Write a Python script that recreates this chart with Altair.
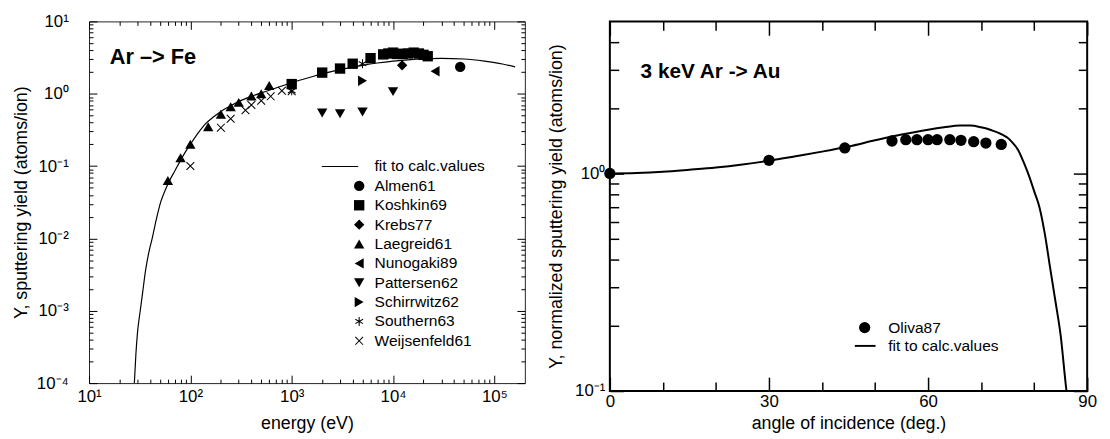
import math
import altair as alt
import pandas as pd

FONT = "Liberation Sans"

# ---------------- left panel: Ar -> Fe ----------------
almen_E = [46000]
almen_Y = [2.35]
koshkin_E = [1000, 2000, 3000, 4000, 6000, 8000, 9000, 10000, 11000, 12500, 14000, 16000, 18000, 20000, 22000]
koshkin_Y = [1.36, 1.96, 2.23, 2.6, 3.1, 3.5, 3.6, 3.7, 3.55, 3.55, 3.6, 3.7, 3.6, 3.45, 3.3]
krebs_E = [12300]
krebs_Y = [2.47]
laegreid_E = [60, 80, 100, 150, 200, 250, 300, 400, 500, 600]
laegreid_Y = [0.063, 0.13, 0.2, 0.35, 0.52, 0.66, 0.76, 0.93, 1.0, 1.3]
nunogaki_E = [26000]
nunogaki_Y = [2.05]
pattersen_E = [2000, 3000, 5000, 10000]
pattersen_Y = [0.54, 0.53, 0.56, 1.07]
schirrwitz_E = [5000]
schirrwitz_Y = [1.51]
southern_E = [1000, 2000, 5000]
southern_Y = [1.1, 1.95, 2.6]
weijsenfeld_E = [100, 200, 250, 350, 400, 500, 620, 800, 1000]
weijsenfeld_Y = [0.1, 0.34, 0.45, 0.59, 0.7, 0.8, 0.92, 1.1, 1.08]

fitL_E = [28, 29, 30, 32, 34, 36, 39, 42, 46, 51, 57, 63, 70, 80, 90, 100, 120, 140, 170, 200,
          250, 300, 400, 500, 700, 1000, 1500, 2000, 3000, 5000, 7000, 10000, 15000, 20000,
          30000, 50000, 80000, 120000, 160000]
fitL_Y = [1e-4, 2.5e-4, 4.8e-4, 1e-3, 1.9e-3, 3.5e-3, 6.5e-3, 1e-2, 1.8e-2, 3.2e-2, 4.8e-2, 6.5e-2,
          8.5e-2, 0.12, 0.16, 0.2, 0.29, 0.38, 0.48, 0.57, 0.68, 0.78, 0.92, 1.03, 1.2, 1.42, 1.68,
          1.88, 2.15, 2.47, 2.66, 2.83, 2.97, 3.03, 3.08, 3.02, 2.82, 2.58, 2.35]

left_series = ["fit to calc.values", "Almen61", "Koshkin69", "Krebs77", "Laegreid61",
               "Nunogaki89", "Pattersen62", "Schirrwitz62", "Southern63", "Weijsenfeld61"]
left_title = "Ar –> Fe"
left_title_E = [16]
left_title_Y = [3.2]

# ---------------- right panel: 3 keV Ar -> Au ----------------
oliva_angle = [0, 30, 44.3, 53.2, 55.8, 57.9, 60.0, 61.7, 64.1, 66.2, 68.6, 70.9, 73.8]
oliva_Y = [1.0, 1.15, 1.31, 1.41, 1.43, 1.43, 1.43, 1.43, 1.43, 1.42, 1.40, 1.38, 1.36]

fitR_angle = [0, 5, 10, 15, 20, 25, 30, 35, 40, 45, 50, 55, 60, 63, 66, 68, 70, 72, 74, 75, 76,
              77, 78, 79, 80, 81, 82, 83, 84, 85, 86, 86.1]
fitR_Y = [1.0, 1.005, 1.018, 1.04, 1.065, 1.10, 1.145, 1.2, 1.26, 1.33, 1.42, 1.51, 1.59, 1.63,
          1.66, 1.66, 1.63, 1.58, 1.51, 1.46, 1.38, 1.28, 1.13, 0.98, 0.83, 0.70, 0.53, 0.37,
          0.26, 0.18, 0.105, 0.1]

right_series = ["Oliva87", "fit to calc.values"]
right_title = "3 keV Ar -> Au"
right_title_A = [5.8]
right_title_Y = [2.93]

# ---------------- tick values ----------------
xL_major = [10, 100, 1000, 10000, 100000]
xL_minor = [m * 10 ** k for k in range(1, 5) for m in range(2, 10)]
yL_major = [1e-4, 1e-3, 1e-2, 1e-1, 1, 10]
yL_minor = [m * 10.0 ** k for k in range(-4, 1) for m in range(2, 10)]
xR_major = [0, 30, 60, 90]
xR_minor = [10, 20, 40, 50, 70, 80]
yR_major = [0.1, 1]
yR_minor = [0.2, 0.3, 0.4, 0.5, 0.6, 0.7, 0.8, 0.9, 2, 3, 4]

SUPS = "['⁰','¹','²','³','⁴','⁵','⁶','⁷','⁸','⁹']"
EXP = "round(log(datum.value)/LN10)"
POW_LABEL = f"'10' + ({EXP} < 0 ? '⁻' : '') + {SUPS}[abs({EXP})]"


# ---------------- symbol paths (filled thin bars) ----------------
def bar(x1, y1, x2, y2, hw):
    L = math.hypot(x2 - x1, y2 - y1)
    dx, dy = (x2 - x1) / L, (y2 - y1) / L
    nx, ny = -dy * hw, dx * hw
    pts = [(x1 + nx, y1 + ny), (x2 + nx, y2 + ny), (x2 - nx, y2 - ny), (x1 - nx, y1 - ny)]
    return "M" + "L".join(f"{px:.3f},{py:.3f}" for px, py in pts) + "Z"


LINE_L = bar(-7.2, 0, -0.2, 0, 0.1)
LINE_R = bar(-1.75, 0, 1.93, 0, 0.17)
XMARK = bar(-0.75, -0.75, 0.75, 0.75, 0.1) + bar(-0.75, 0.75, 0.75, -0.75, 0.1)
STAR = (bar(0, -0.85, 0, 0.85, 0.1) + bar(-0.74, -0.42, 0.74, 0.42, 0.1)
        + bar(-0.74, 0.42, 0.74, -0.42, 0.1))
left_shapes = [LINE_L, "circle", "square", "diamond", "triangle-up", "triangle-left",
               "triangle-down", "triangle-right", STAR, XMARK]
right_shapes = ["circle", LINE_R]


def ax(orient, values, L, tw, **kw):
    return alt.Axis(orient=orient, values=values, tickSize=L, offset=-L, tickWidth=tw,
                    ticks=True, tickColor="black", tickOpacity=1, labelFlush=False,
                    labelOverlap=False, zindex=2, **kw)


def frame(Ecol, Ycol, xs, ys, xmaj, xmin, ymaj, ymin, Lmaj, Lmin, tw, xtitle, ytitle,
          xlab_expr, ylab_expr, xlabpad, ylabpad, xtitlepad, ytitlepad):
    a = {}
    xkw = dict(labelExpr=xlab_expr) if xlab_expr else {}
    ykw = dict(labelExpr=ylab_expr) if ylab_expr else {}
    a["major"] = (
        alt.X(Ecol, scale=xs, axis=ax("bottom", xmaj, Lmaj, tw, labelPadding=xlabpad, title=xtitle,
                                      titlePadding=xtitlepad, **xkw)),
        alt.Y(Ycol, scale=ys, axis=ax("left", ymaj, Lmaj, tw, labelPadding=ylabpad, title=ytitle,
                                      titlePadding=ytitlepad, **ykw)),
    )
    a["minor"] = (
        alt.X(Ecol, scale=xs, axis=ax("bottom", xmin, Lmin, tw, labels=False, title=None)),
        alt.Y(Ycol, scale=ys, axis=ax("left", ymin, Lmin, tw, labels=False, title=None)),
    )
    a["major2"] = (
        alt.X(Ecol, scale=xs, axis=ax("top", xmaj, Lmaj, tw, labels=False, title=None)),
        alt.Y(Ycol, scale=ys, axis=ax("right", ymaj, Lmaj, tw, labels=False, title=None)),
    )
    a["minor2"] = (
        alt.X(Ecol, scale=xs, axis=ax("top", xmin, Lmin, tw, labels=False, title=None)),
        alt.Y(Ycol, scale=ys, axis=ax("right", ymin, Lmin, tw, labels=False, title=None)),
    )
    return a


# ---------- left panel chart ----------
rows = []
for name, E, Y in [("Almen61", almen_E, almen_Y), ("Koshkin69", koshkin_E, koshkin_Y),
                   ("Krebs77", krebs_E, krebs_Y), ("Laegreid61", laegreid_E, laegreid_Y),
                   ("Nunogaki89", nunogaki_E, nunogaki_Y), ("Pattersen62", pattersen_E, pattersen_Y),
                   ("Schirrwitz62", schirrwitz_E, schirrwitz_Y), ("Southern63", southern_E, southern_Y),
                   ("Weijsenfeld61", weijsenfeld_E, weijsenfeld_Y)]:
    for e, y in zip(E, Y):
        rows.append({"E": e, "Y": y, "series": name})
dfL = pd.DataFrame(rows)
dfL_fit = pd.DataFrame({"E": fitL_E, "Y": fitL_Y})
dfL_title = pd.DataFrame({"E": left_title_E, "Y": left_title_Y, "t": [left_title]})

xsL = alt.Scale(type="log", domain=[10, 200000], nice=False)
ysL = alt.Scale(type="log", domain=[1e-4, 10], nice=False)
axL = frame("E:Q", "Y:Q", xsL, ysL, xL_major, xL_minor, yL_major, yL_minor, 8, 4, 1,
            "energy (eV)", "Y, sputtering yield (atoms/ion)", POW_LABEL, POW_LABEL, 6, 21, 10, 6)

left_line = alt.Chart(dfL_fit).mark_line(color="black", strokeWidth=1.2, clip=True,
                                         interpolate="monotone").encode(
    x=axL["minor"][0], y=axL["minor"][1])
left_pts = alt.Chart(dfL).mark_point(filled=True, fill="black", opacity=1, size=110).encode(
    x=axL["major"][0], y=axL["major"][1],
    shape=alt.Shape("series:N", scale=alt.Scale(domain=left_series, range=left_shapes),
                    legend=alt.Legend(orient="none", legendX=265.5, legendY=139, title=None,
                                      labelFontSize=15.7, labelFont=FONT, labelColor="black",
                                      symbolSize=110, symbolFillColor="black",
                                      symbolStrokeWidth=0, symbolOpacity=1, rowPadding=2.6,
                                      labelOffset=7.7, padding=0)))
left_txt = alt.Chart(dfL_title).mark_text(align="left", baseline="middle", font=FONT,
                                          fontSize=22, fontWeight="bold", color="black").encode(
    x=axL["major2"][0], y=axL["major2"][1], text="t:N")
left_inv = alt.Chart(dfL_fit).mark_point(opacity=0).encode(x=axL["minor2"][0], y=axL["minor2"][1])

left = alt.layer(left_line, left_pts, left_txt, left_inv).resolve_axis(
    x="independent", y="independent").properties(
    width=441, height=366, view=alt.ViewBackground(stroke="#222", strokeWidth=1))

# ---------- right panel chart ----------
dfR = pd.DataFrame({"A": oliva_angle, "Y": oliva_Y, "series": ["Oliva87"] * len(oliva_angle)})
dfR_fit = pd.DataFrame({"A": fitR_angle, "Y": fitR_Y})
dfR_title = pd.DataFrame({"A": right_title_A, "Y": right_title_Y, "t": [right_title]})

xsR = alt.Scale(domain=[0, 90], nice=False, zero=False)
ysR = alt.Scale(type="log", domain=[0.1, 5], nice=False)
axR = frame("A:Q", "Y:Q", xsR, ysR, xR_major, xR_minor, yR_major, yR_minor, 14, 9, 1.5,
            "angle of incidence (deg.)", "Y, normalized sputtering yield (atoms/ion)",
            None, POW_LABEL, 3, 5, 5, 9)

right_line = alt.Chart(dfR_fit).mark_line(color="black", strokeWidth=2, clip=True,
                                          interpolate="monotone").encode(
    x=axR["minor"][0], y=axR["minor"][1])
right_pts = alt.Chart(dfR).mark_point(filled=True, fill="black", opacity=1, size=130).encode(
    x=axR["major"][0], y=axR["major"][1],
    shape=alt.Shape("series:N", scale=alt.Scale(domain=right_series, range=right_shapes),
                    legend=alt.Legend(orient="none", legendX=250, legendY=302, title=None,
                                      labelFontSize=15.7, labelFont=FONT, labelColor="black",
                                      symbolSize=130, symbolFillColor="black",
                                      symbolStrokeWidth=0, symbolOpacity=1, rowPadding=1.5,
                                      labelOffset=16, padding=0)))
right_txt = alt.Chart(dfR_title).mark_text(align="left", baseline="middle", font=FONT,
                                           fontSize=21, fontWeight="bold", color="black").encode(
    x=axR["major2"][0], y=axR["major2"][1], text="t:N")
right_inv = alt.Chart(dfR_fit).mark_point(opacity=0).encode(x=axR["minor2"][0], y=axR["minor2"][1])

right = alt.layer(right_line, right_pts, right_txt, right_inv).resolve_axis(
    x="independent", y="independent").properties(
    width=483, height=374, view=alt.ViewBackground(stroke="black", strokeWidth=2))

chart = alt.hconcat(left, right, spacing=86, bounds="flush").resolve_scale(
    x="independent", y="independent", shape="independent").resolve_legend(
    shape="independent").properties(
    padding={"left": 4, "top": 1, "right": 4, "bottom": 4}).configure_axis(
    labelFont=FONT, titleFont=FONT, labelFontSize=17, titleFontSize=18, titleFontWeight="normal",
    labelColor="black", titleColor="black", tickColor="black", grid=False, domain=False
).configure_view(stroke="black")

chart.save("out.html", embed_options={"renderer": "svg", "actions": False})
